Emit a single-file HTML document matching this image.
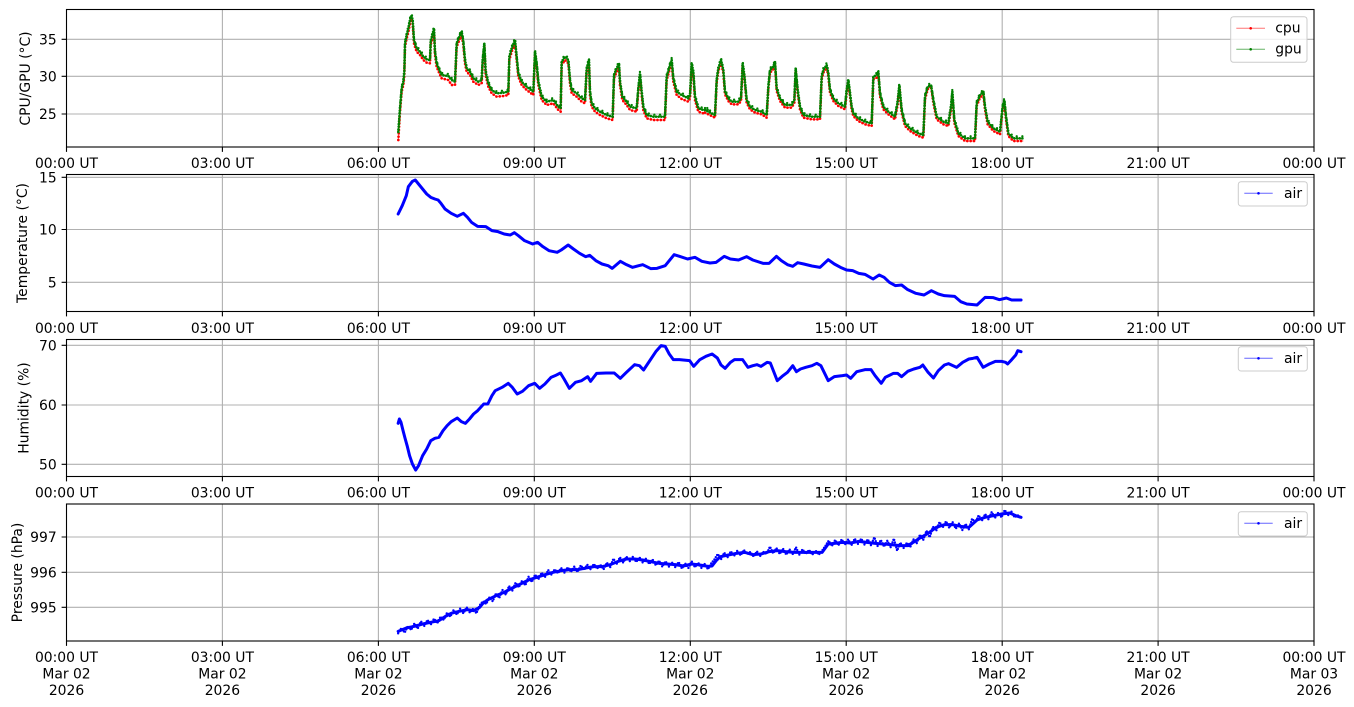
<!DOCTYPE html>
<html><head><meta charset="utf-8"><style>html,body{margin:0;padding:0;background:#fff}svg{display:block}</style></head>
<body>
<svg width="1354" height="707" viewBox="0 0 1354 707" xmlns="http://www.w3.org/2000/svg" font-family="DejaVu Sans, Liberation Sans, sans-serif" font-size="13.9" fill="#000">
<defs>
  <polyline id="r1" points="25,390 30,305 35,245 40,225 43,195 45,110 50,85 55,67 62,30 65,28 68,40 70,70 72,100 75,110 80,125 90,135 100,150 110,158 120,160 122,105 127,85 132,65 135,135 140,170 148,190 155,205 175,210 185,225 195,225 200,110 210,85 215,75 220,105 225,160 230,185 240,195 250,215 265,225 275,220 278,160 283,110 287,195 295,230 305,250 320,260 340,258 355,255 358,150 365,125 375,100 380,150 385,200 395,225 410,240 430,255 435,135 440,170 445,225 455,270 470,285 490,280 505,300 512,305 515,165 525,150 535,160 540,220 545,250 560,260 575,275 585,280 590,185 597,160 600,255 605,290 615,305 630,315 650,325 668,330 672,205 680,185 687,170 690,225 697,270 710,285 720,300 740,305 745,245 750,200 755,255 760,300 770,325 790,330 825,330 830,210 840,175 845,160 850,215 860,255 875,267 895,275 900,265 905,170 910,195 915,270 925,305 940,310"/>
  <polyline id="g1" points="25,366 30,295 35,235 40,215 43,185 45,100 50,75 55,55 62,20 65,18 68,30 70,60 72,90 75,100 80,115 90,125 100,140 110,148 120,150 122,95 127,75 132,55 135,125 140,160 148,180 155,195 175,198 185,210 195,215 200,100 210,75 215,65 220,95 225,150 230,175 240,185 250,205 265,215 275,210 278,150 283,100 287,185 295,220 305,240 320,250 340,248 355,245 358,140 365,115 375,90 380,140 385,190 395,215 410,230 430,245 435,125 440,160 445,215 455,260 470,275 490,270 505,290 512,295 515,155 525,140 535,150 540,210 545,240 560,250 575,265 585,270 590,175 597,150 600,245 605,280 615,295 630,305 650,315 668,320 672,195 680,175 687,160 690,215 697,260 710,275 720,290 740,295 745,235 750,190 755,245 760,290 770,315 790,320 825,320 830,200 840,165 845,150 850,205 860,245 875,255 895,265 900,255 905,160 910,185 915,260 925,295 940,300 955,300"/>
  <polyline id="r2" points="0,308 30,323 35,218 40,183 48,158 55,188 60,253 70,273 80,283 100,283 108,273 113,168 118,203 125,278 135,298 150,308 170,313 185,323 190,238 195,188 205,178 210,163 215,243 225,273 240,293 260,293 268,278 272,183 278,248 285,298 295,323 320,328 345,328 350,208 355,188 365,173 370,198 375,248 385,273 400,288 420,298 425,248 430,218 435,258 440,298 445,318 460,333 480,343 500,348 505,208 515,203 520,193 525,258 535,298 550,313 570,328 578,283 583,233 590,308 600,348 615,363 640,378 655,383 660,268 668,238 678,228 685,278 695,328 715,343 730,348 738,298 742,253 748,338 760,378 780,393 810,393 815,288 825,263 835,253 840,298 848,343 865,363 885,373 893,298 898,278 903,328 910,378 925,393 955,393"/>
  <polyline id="g2" points="0,300 30,315 35,210 40,175 48,150 55,180 60,245 70,265 80,275 100,275 108,265 113,160 118,195 125,270 135,290 150,300 170,305 185,315 190,230 195,180 205,170 210,155 215,235 225,265 240,285 260,285 268,270 272,175 278,240 285,290 295,315 320,320 345,320 350,200 355,180 365,165 370,190 375,240 385,265 400,280 420,290 425,240 430,210 435,250 440,290 445,310 460,325 480,335 500,340 505,200 515,195 520,185 525,250 535,290 550,305 570,320 578,275 583,225 590,300 600,340 615,355 640,370 655,375 660,260 668,230 678,225 685,270 695,320 715,335 730,340 738,290 742,245 748,330 760,370 780,385 810,385 815,280 825,255 835,245 840,290 848,335 865,355 885,365 893,290 898,270 903,320 910,370 925,385 955,385"/>
</defs>
<rect width="1354" height="707" fill="#fff"/>

<!-- ===== GRIDS ===== -->
<g stroke="#b0b0b0" stroke-width="1.1">
  <path d="M222.4 9.5V147M378.4 9.5V147M534.3 9.5V147M690.3 9.5V147M846.2 9.5V147M1002.2 9.5V147M1158.1 9.5V147M66.5 39.3H1314M66.5 76.3H1314M66.5 114H1314"/>
  <path d="M222.4 174.5V311.5M378.4 174.5V311.5M534.3 174.5V311.5M690.3 174.5V311.5M846.2 174.5V311.5M1002.2 174.5V311.5M1158.1 174.5V311.5M66.5 177.3H1314M66.5 229.5H1314M66.5 282.3H1314"/>
  <path d="M222.4 339.5V476.5M378.4 339.5V476.5M534.3 339.5V476.5M690.3 339.5V476.5M846.2 339.5V476.5M1002.2 339.5V476.5M1158.1 339.5V476.5M66.5 345.3H1314M66.5 405H1314M66.5 464.3H1314"/>
  <path d="M222.4 504V641M378.4 504V641M534.3 504V641M690.3 504V641M846.2 504V641M1002.2 504V641M1158.1 504V641M66.5 537H1314M66.5 572.3H1314M66.5 607.3H1314"/>
</g>

<!-- ===== PANEL 1 DATA ===== -->
<g transform="translate(390,10) scale(0.333333)" fill="none" stroke-linejoin="round">
  <use href="#r1" stroke="#ff0000" stroke-opacity="0.55" stroke-width="3"/>
  <use href="#g1" stroke="#008000" stroke-opacity="0.6" stroke-width="3"/>
  <use href="#r1" stroke="#ff0000" stroke-width="8" stroke-dasharray="0 10" stroke-linecap="round"/>
  <use href="#g1" stroke="#008000" stroke-width="8" stroke-dasharray="0 8" stroke-linecap="round"/>
  <use href="#g1" transform="translate(0,-6)" stroke="#008000" stroke-width="7" stroke-dasharray="0 17" stroke-linecap="round"/>
</g>
<g transform="translate(705,10) scale(0.333333)" fill="none" stroke-linejoin="round">
  <use href="#r2" stroke="#ff0000" stroke-opacity="0.55" stroke-width="3"/>
  <use href="#g2" stroke="#008000" stroke-opacity="0.6" stroke-width="3"/>
  <use href="#r2" stroke="#ff0000" stroke-width="8" stroke-dasharray="0 10" stroke-linecap="round"/>
  <use href="#g2" stroke="#008000" stroke-width="8" stroke-dasharray="0 8" stroke-linecap="round"/>
  <use href="#g2" transform="translate(0,-6)" stroke="#008000" stroke-width="7" stroke-dasharray="0 17" stroke-linecap="round"/>
</g>

<!-- ===== PANEL 2 DATA ===== -->
<g transform="translate(390,174) scale(0.40766,0.333333)" fill="none" stroke="#0000ff" stroke-linejoin="round" stroke-linecap="round">
  <polyline vector-effect="non-scaling-stroke" stroke-width="3" points="20,120 30,95 40,65 45,38 55,22 62,18 70,30 80,45 90,60 100,70 110,75 118,78 125,88 135,105 150,118 165,127 180,118 190,130 200,145 215,157 235,158 250,170 265,173 280,180 295,183 305,176 315,185 330,200 350,210 362,205 375,218 390,230 410,235 420,228 437,213 450,225 465,238 480,248 490,244 505,260 520,270 535,275 545,283 565,262 580,272 595,280 610,275 620,272 640,284 655,283 675,275 685,260 697,242 710,247 730,255 748,250 765,262 785,267 800,265 820,247 835,255 855,258 875,248 890,258 915,268 930,268 948,247 960,260 975,272 988,277 1000,266 1015,270 1035,276 1055,280 1075,257 1090,270 1105,280 1120,288 1135,290 1150,298 1165,301 1185,315 1200,303 1212,310 1225,325 1240,335 1255,333 1270,347 1290,358 1310,363 1328,350 1345,360 1360,365 1385,367 1400,383 1415,390 1440,393 1460,370 1480,371 1495,377 1512,372 1525,378 1548,378"/>
</g>

<!-- ===== PANEL 3 DATA ===== -->
<g transform="translate(390,339) scale(0.40766,0.333333)" fill="none" stroke="#0000ff" stroke-linejoin="round" stroke-linecap="round">
  <polyline vector-effect="non-scaling-stroke" stroke-width="3" points="20,253 23,240 27,250 32,275 37,298 42,320 48,350 55,375 63,393 70,380 80,350 90,330 100,305 110,298 120,295 130,275 140,260 150,248 165,237 175,248 185,253 195,240 205,225 215,215 230,195 240,195 250,170 258,155 275,145 290,133 300,145 312,165 325,157 340,140 355,133 367,148 380,135 395,115 405,110 418,102 427,120 440,148 455,130 470,125 485,113 492,127 507,103 530,102 550,102 565,118 580,100 600,77 612,80 622,93 640,60 652,38 665,20 675,22 685,45 695,62 710,62 735,65 745,82 760,62 775,52 790,45 803,57 812,78 822,88 835,70 845,62 865,62 878,85 890,80 900,77 910,82 925,70 933,72 950,125 962,112 975,100 988,80 997,98 1007,90 1020,85 1035,80 1047,73 1057,80 1075,125 1090,113 1110,110 1120,108 1130,118 1145,98 1165,92 1180,92 1190,110 1205,133 1215,115 1235,103 1245,103 1255,113 1270,97 1285,90 1300,85 1307,78 1320,100 1333,117 1345,95 1360,78 1370,74 1390,85 1405,70 1420,60 1430,58 1440,55 1455,85 1470,75 1485,67 1500,67 1510,70 1515,75 1525,62 1535,48 1540,35 1548,38"/>
</g>

<!-- ===== PANEL 4 DATA ===== -->
<g transform="translate(390,504) scale(0.40766,0.333333)" fill="none" stroke="#0000ff" stroke-linejoin="round" stroke-linecap="round">
  <polyline vector-effect="non-scaling-stroke" stroke-width="3" points="20,382 40,372 60,367 80,360 100,355 120,350 135,338 150,328 170,322 190,317 205,320 220,310 228,298 240,287 260,275 280,265 300,252 320,240 340,228 360,220 380,212 400,205 420,200 440,197 460,197 480,192 500,188 520,188 540,182 560,172 580,165 600,165 620,168 640,173 660,178 680,180 700,182 720,186 740,180 760,183 780,187 790,186 800,170 810,158 830,153 850,148 870,145 890,152 910,150 930,143 950,140 970,143 990,145 1010,145 1030,145 1060,145 1075,120 1090,118 1110,115 1130,117 1150,112 1170,115 1190,118 1210,120 1230,122 1250,125 1270,125 1290,110 1300,102 1320,88 1340,70 1360,62 1380,62 1400,67 1420,70 1440,48 1460,40 1480,35 1500,30 1520,27 1535,35 1548,40"/>
  <polyline vector-effect="non-scaling-stroke" stroke-width="2.4" stroke-dasharray="0 2.6" points="20,388 28,372 36,386 44,366 52,378 60,358 68,374 76,352 84,366 92,348 100,362 108,344 116,358 124,338 132,348 140,326 148,338 156,318 164,332 172,314 180,328 188,310 196,326 204,314 212,328 220,304 228,292 236,300 244,280 252,292 260,268 268,282 276,258 284,272 292,246 300,260 308,236 316,250 324,230 332,244 340,218 348,234 356,212 364,226 372,206 380,220 388,198 396,212 404,196 412,208 420,192 428,206 436,190 444,204 452,188 460,204 468,184 476,198 484,182 492,196 500,180 508,194 516,182 524,196 532,176 540,190 548,164 556,180 564,160 572,176 580,158 588,172 596,158 604,174 612,160 620,176 628,164 636,180 644,166 652,184 660,170 668,188 676,172 684,188 692,176 700,190 708,174 716,194 724,178 732,192 740,172 748,190 756,176 764,192 772,180 780,196 788,178 796,166 804,150 812,166 820,146 828,160 836,142 844,156 852,140 860,154 868,138 876,150 884,144 892,158 900,142 908,156 916,144 924,150 932,128 940,148 948,132 956,150 964,134 972,152 980,136 988,150 996,130 1004,152 1012,136 1020,150 1028,138 1036,152 1044,140 1052,152 1060,140 1068,126 1076,110 1084,126 1092,108 1100,124 1108,106 1116,122 1124,106 1132,124 1140,104 1148,120 1156,104 1164,122 1172,106 1180,124 1188,100 1196,126 1204,108 1212,128 1220,110 1228,130 1236,104 1244,140 1252,116 1260,132 1268,116 1276,130 1284,106 1292,118 1300,92 1308,108 1316,80 1324,100 1332,68 1340,80 1348,54 1356,70 1364,52 1372,72 1380,54 1388,74 1396,58 1404,78 1412,60 1420,76 1428,44 1436,56 1444,34 1452,50 1460,30 1468,46 1476,24 1484,42 1492,26 1500,40 1508,18 1516,34 1524,22 1532,40 1540,34 1548,44"/>
</g>

<!-- ===== SPINES & TICKS ===== -->
<g fill="none" stroke="#000" stroke-width="1.1">
  <rect x="66.5" y="9.5" width="1247.5" height="137.5"/>
  <rect x="66.5" y="174.5" width="1247.5" height="137"/>
  <rect x="66.5" y="339.5" width="1247.5" height="137"/>
  <rect x="66.5" y="504" width="1247.5" height="137"/>
  <path d="M66.5 147v4.9M222.4 147v4.9M378.4 147v4.9M534.3 147v4.9M690.3 147v4.9M846.2 147v4.9M1002.2 147v4.9M1158.1 147v4.9M1314 147v4.9"/>
  <path d="M66.5 311.5v4.9M222.4 311.5v4.9M378.4 311.5v4.9M534.3 311.5v4.9M690.3 311.5v4.9M846.2 311.5v4.9M1002.2 311.5v4.9M1158.1 311.5v4.9M1314 311.5v4.9"/>
  <path d="M66.5 476.5v4.9M222.4 476.5v4.9M378.4 476.5v4.9M534.3 476.5v4.9M690.3 476.5v4.9M846.2 476.5v4.9M1002.2 476.5v4.9M1158.1 476.5v4.9M1314 476.5v4.9"/>
  <path d="M66.5 641v4.9M222.4 641v4.9M378.4 641v4.9M534.3 641v4.9M690.3 641v4.9M846.2 641v4.9M1002.2 641v4.9M1158.1 641v4.9M1314 641v4.9"/>
  <path d="M66.5 39.3h-4.9M66.5 76.3h-4.9M66.5 114h-4.9M66.5 177.3h-4.9M66.5 229.5h-4.9M66.5 282.3h-4.9M66.5 345.3h-4.9M66.5 405h-4.9M66.5 464.3h-4.9M66.5 537h-4.9M66.5 572.3h-4.9M66.5 607.3h-4.9"/>
</g>

<!-- ===== Y TICK LABELS ===== -->
<g text-anchor="end">
  <text x="56.7" y="44.3">35</text><text x="56.7" y="81.3">30</text><text x="56.7" y="119">25</text>
  <text x="56.7" y="182.3">15</text><text x="56.7" y="234.5">10</text><text x="56.7" y="287.3">5</text>
  <text x="56.7" y="350.3">70</text><text x="56.7" y="410">60</text><text x="56.7" y="469.3">50</text>
  <text x="56.7" y="542">997</text><text x="56.7" y="577.3">996</text><text x="56.7" y="612.3">995</text>
</g>

<!-- ===== X TICK LABELS ===== -->
<g text-anchor="middle">
  <text x="66.5" y="168.2">00:00 UT</text><text x="222.4" y="168.2">03:00 UT</text><text x="378.4" y="168.2">06:00 UT</text><text x="534.3" y="168.2">09:00 UT</text><text x="690.3" y="168.2">12:00 UT</text><text x="846.2" y="168.2">15:00 UT</text><text x="1002.2" y="168.2">18:00 UT</text><text x="1158.1" y="168.2">21:00 UT</text><text x="1314" y="168.2">00:00 UT</text>

  <text x="66.5" y="333.2">00:00 UT</text><text x="222.4" y="333.2">03:00 UT</text><text x="378.4" y="333.2">06:00 UT</text><text x="534.3" y="333.2">09:00 UT</text><text x="690.3" y="333.2">12:00 UT</text><text x="846.2" y="333.2">15:00 UT</text><text x="1002.2" y="333.2">18:00 UT</text><text x="1158.1" y="333.2">21:00 UT</text><text x="1314" y="333.2">00:00 UT</text>

  <text x="66.5" y="497.5">00:00 UT</text><text x="222.4" y="497.5">03:00 UT</text><text x="378.4" y="497.5">06:00 UT</text><text x="534.3" y="497.5">09:00 UT</text><text x="690.3" y="497.5">12:00 UT</text><text x="846.2" y="497.5">15:00 UT</text><text x="1002.2" y="497.5">18:00 UT</text><text x="1158.1" y="497.5">21:00 UT</text><text x="1314" y="497.5">00:00 UT</text>

  <text x="66.5" y="661.8">00:00 UT</text><text x="222.4" y="661.8">03:00 UT</text><text x="378.4" y="661.8">06:00 UT</text><text x="534.3" y="661.8">09:00 UT</text><text x="690.3" y="661.8">12:00 UT</text><text x="846.2" y="661.8">15:00 UT</text><text x="1002.2" y="661.8">18:00 UT</text><text x="1158.1" y="661.8">21:00 UT</text><text x="1314" y="661.8">00:00 UT</text>
  <text x="66.5" y="678.3">Mar 02</text><text x="222.4" y="678.3">Mar 02</text><text x="378.4" y="678.3">Mar 02</text><text x="534.3" y="678.3">Mar 02</text><text x="690.3" y="678.3">Mar 02</text><text x="846.2" y="678.3">Mar 02</text><text x="1002.2" y="678.3">Mar 02</text><text x="1158.1" y="678.3">Mar 02</text><text x="1314" y="678.3">Mar 03</text>
  <text x="66.5" y="694.8">2026</text><text x="222.4" y="694.8">2026</text><text x="378.4" y="694.8">2026</text><text x="534.3" y="694.8">2026</text><text x="690.3" y="694.8">2026</text><text x="846.2" y="694.8">2026</text><text x="1002.2" y="694.8">2026</text><text x="1158.1" y="694.8">2026</text><text x="1314" y="694.8">2026</text>
</g>

<!-- ===== Y AXIS LABELS ===== -->
<g text-anchor="middle">
  <text transform="translate(30,78.5) rotate(-90)">CPU/GPU (°C)</text>
  <text transform="translate(26.8,243) rotate(-90)">Temperature (°C)</text>
  <text transform="translate(28.4,408) rotate(-90)">Humidity (%)</text>
  <text transform="translate(21.8,572.5) rotate(-90)">Pressure (hPa)</text>
</g>

<!-- ===== LEGENDS ===== -->
<g>
  <rect x="1230.7" y="16.7" width="76.3" height="45.6" rx="2.8" fill="#fff" fill-opacity="0.8" stroke="#cccccc" stroke-width="1"/>
  <line x1="1236.3" y1="28.3" x2="1265" y2="28.3" stroke="#ff0000" stroke-opacity="0.55" stroke-width="1"/>
  <circle cx="1250.7" cy="28.3" r="1.3" fill="#ff0000"/>
  <text x="1275.3" y="32.6">cpu</text>
  <line x1="1236.3" y1="49.3" x2="1265" y2="49.3" stroke="#008000" stroke-opacity="0.6" stroke-width="1"/>
  <circle cx="1250.7" cy="49.3" r="1.3" fill="#008000"/>
  <text x="1275.3" y="53.6">gpu</text>

  <rect x="1238.3" y="181.7" width="69" height="24.3" rx="2.8" fill="#fff" fill-opacity="0.8" stroke="#cccccc" stroke-width="1"/>
  <line x1="1244.3" y1="193.3" x2="1272.7" y2="193.3" stroke="#0000ff" stroke-opacity="0.6" stroke-width="1"/>
  <circle cx="1258.5" cy="193.3" r="1.3" fill="#0000ff"/>
  <text x="1284" y="198.2">air</text>

  <rect x="1238.3" y="346.7" width="69" height="24.3" rx="2.8" fill="#fff" fill-opacity="0.8" stroke="#cccccc" stroke-width="1"/>
  <line x1="1244.3" y1="358.3" x2="1272.7" y2="358.3" stroke="#0000ff" stroke-opacity="0.6" stroke-width="1"/>
  <circle cx="1258.5" cy="358.3" r="1.3" fill="#0000ff"/>
  <text x="1284" y="363.2">air</text>

  <rect x="1238.3" y="511.7" width="69" height="24.3" rx="2.8" fill="#fff" fill-opacity="0.8" stroke="#cccccc" stroke-width="1"/>
  <line x1="1244.3" y1="523.3" x2="1272.7" y2="523.3" stroke="#0000ff" stroke-opacity="0.6" stroke-width="1"/>
  <circle cx="1258.5" cy="523.3" r="1.3" fill="#0000ff"/>
  <text x="1284" y="528.2">air</text>
</g>
</svg>
</body></html>
